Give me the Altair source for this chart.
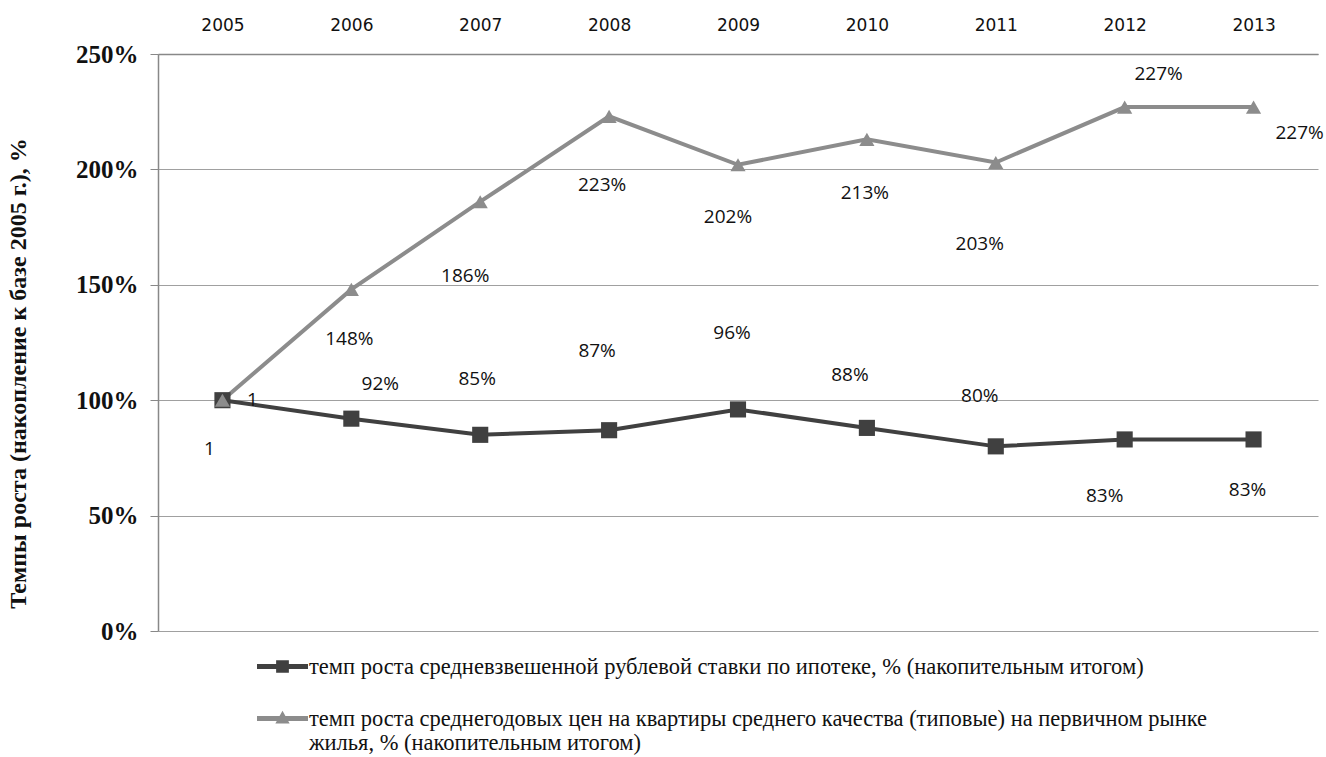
import altair as alt
import pandas as pd

years = ["2005", "2006", "2007", "2008", "2009", "2010", "2011", "2012", "2013"]
mortgage = [100, 92, 85, 87, 96, 88, 80, 83, 83]
prices = [100, 148, 186, 223, 202, 213, 203, 227, 227]
mortgage_labels = ["1", "92%", "85%", "87%", "96%", "88%", "80%", "83%", "83%"]
prices_labels = ["1", "148%", "186%", "223%", "202%", "213%", "203%", "227%", "227%"]

s1 = "темп роста средневзвешенной рублевой ставки по ипотеке, % (накопительным итогом)"
s2 = ("темп роста среднегодовых цен на квартиры среднего качества (типовые) на первичном рынке"
      "|жилья, % (накопительным итогом)")
series_names = [s1, s2]

# label offsets (pixels) relative to their points, as placed in the original
mort_off = [(-13, 49), (29, -35), (-3, -56), (-12, -79), (-6, -76), (-17, -53), (-16, -50), (-20, 57), (-6, 51)]
price_off = [(30, 0), (-2, 50), (-15, 74), (-7, 69), (-10, 52), (-2, 54), (-16, 82), (34, -33), (46, 26)]

rows = []
for i, y in enumerate(years):
    rows.append({"year": y, "value": mortgage[i], "series": s1, "label": mortgage_labels[i]})
for i, y in enumerate(years):
    rows.append({"year": y, "value": prices[i], "series": s2, "label": prices_labels[i]})
df = pd.DataFrame(rows)

dark = "#404040"
light = "#8c8c8c"

x_enc = alt.X("year:O", sort=years,
              scale=alt.Scale(type="point", padding=0.5),
              axis=alt.Axis(orient="top", title=None, labelAngle=0, ticks=False,
                            labelFont="DejaVu Sans", labelFontSize=17, labelColor="#111",
                            labelPadding=20, domainColor="#888", domainWidth=1.5, grid=False))
y_enc = alt.Y("value:Q",
              scale=alt.Scale(domain=[0, 250], nice=False),
              axis=alt.Axis(values=[0, 50, 100, 150, 200, 250], labelExpr="datum.value + '%'",
                            title="Темпы  роста (накопление к базе 2005 г.), %",
                            titleFont="Liberation Serif", titleFontSize=24, titleFontWeight="bold",
                            titleColor="#111", titleX=-128, titleY=319,
                            labelFont="Liberation Serif", labelFontSize=25, labelFontWeight="bold",
                            labelColor="#111", labelPadding=12, tickSize=8, tickColor="#888",
                            domainColor="#888", domainWidth=1.5,
                            grid=True, gridColor="#a0a0a0", gridWidth=1.2))

color_scale = alt.Scale(domain=series_names, range=[dark, light])
shape_scale = alt.Scale(domain=series_names, range=[
    "M-1,-0.1H1V0.1H-1Z M-0.25,-0.25H0.25V0.25H-0.25Z",
    "M-1,-0.1H1V0.1H-1Z M0,-0.3L0.28,0.2H-0.28Z",
])

legend = alt.Legend(orient="none", legendX=99, legendY=587, direction="vertical",
                    title=None, labelFont="Liberation Serif", labelFontSize=22.5,
                    labelColor="#111", labelLimit=1200, rowPadding=15,
                    symbolSize=2600, symbolOpacity=1, symbolStrokeWidth=0,
                    labelExpr="split(datum.label, '|')", labelOffset=1)

base = alt.Chart(df)

lines = base.mark_line(strokeWidth=4).encode(
    x=x_enc, y=y_enc,
    color=alt.Color("series:N", scale=color_scale, legend=legend),
    order=alt.Order("series:N", sort="descending"),
)

sq = base.transform_filter(alt.datum.series == s1).mark_point(
    shape="square", filled=True, size=260, opacity=1, color=dark).encode(x="year:O", y="value:Q")
tri = base.transform_filter(alt.datum.series == s2).mark_point(
    shape="triangle-up", filled=True, size=230, opacity=1, color=light).encode(x="year:O", y="value:Q")

ghost = base.mark_point(filled=True, opacity=0).encode(
    x="year:O", y="value:Q",
    color=alt.Color("series:N", scale=color_scale, legend=legend),
    shape=alt.Shape("series:N", scale=shape_scale, legend=legend),
)

layers = [lines, sq, tri, ghost]

for i, y in enumerate(years):
    dx, dy = mort_off[i]
    layers.append(
        base.transform_filter((alt.datum.series == s1) & (alt.datum.year == y))
        .mark_text(dx=dx, dy=dy, font="Open Sans", fontSize=19, color="#111")
        .encode(x="year:O", y="value:Q", text="label:N"))
    dx, dy = price_off[i]
    layers.append(
        base.transform_filter((alt.datum.series == s2) & (alt.datum.year == y))
        .mark_text(dx=dx, dy=dy, font="Open Sans", fontSize=19, color="#111")
        .encode(x="year:O", y="value:Q", text="label:N"))

chart = alt.layer(*layers).properties(
    width=1160, height=577,
    autosize=alt.AutoSizeParams(type="none"),
    padding={"left": 158, "top": 54, "right": 8, "bottom": 126},
    background="white",
).configure_view(stroke=None)

chart.save("out.html", embed_options={"renderer": "svg", "actions": False})
